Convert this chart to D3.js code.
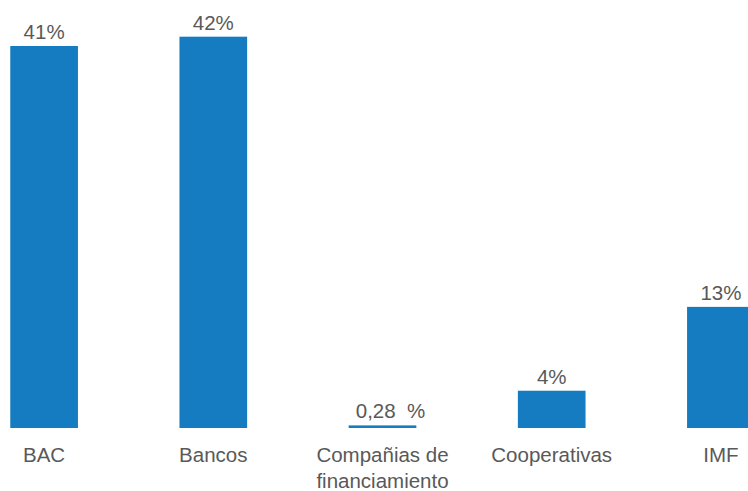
<!DOCTYPE html>
<html>
<head>
<meta charset="utf-8">
<script src="https://cdn.jsdelivr.net/npm/d3@7"></script>
<style>
  body { margin: 0; background: #fff; }
  text { font-family: "Liberation Sans", Arial, sans-serif; fill: #595959; }
</style>
</head>
<body>
<div id="chart"></div>
<script>
var categorias = ["BAC", "Bancos", "Compañias de financiamiento", "Cooperativas", "IMF"];
var valores = [41, 42, 0.28, 4, 13];
var etiquetas = ["41%", "42%", "0,28  %", "4%", "13%"];
var lineas = [["BAC"], ["Bancos"], ["Compañias de", "financiamiento"], ["Cooperativas"], ["IMF"]];

var w = 748, h = 491;
var margin = ({top: 20, bottom: 63});

var svg = d3.select("#chart")
  .append("svg")
    .attr("width", w)
    .attr("height", h);

var x = d3.scaleBand()
  .domain(categorias)
  .range([-40.5, 805.5])
  .paddingInner(0.6)
  .paddingOuter(0.3);

var y = d3.scaleLinear()
  .domain([0, 41])
  .range([h - margin.bottom, 46]);

svg.selectAll("rect.bar")
  .data(valores)
  .enter()
  .append("rect")
    .attr("class", "bar")
    .attr("x", (d, i) => x(categorias[i]))
    .attr("width", x.bandwidth())
    .attr("y", d => y(d))
    .attr("height", d => y(0) - y(d))
    .attr("fill", "#157cc1");

svg.selectAll("text.valor")
  .data(valores)
  .enter()
  .append("text")
    .attr("class", "valor")
    .attr("x", (d, i) => x(categorias[i]) + x.bandwidth() / 2)
    .attr("dx", d => d < 1 ? 8 : 0) // la etiqueta chica va corrida a la derecha
    .attr("y", d => y(d) - 7)
    .attr("text-anchor", "middle")
    .attr("font-size", "20.5px")
    .style("white-space", "pre")
    .text((d, i) => etiquetas[i]);

var g = svg.selectAll("text.cat")
  .data(lineas)
  .enter()
  .append("text")
    .attr("class", "cat")
    .attr("x", (d, i) => x(categorias[i]) + x.bandwidth() / 2)
    .attr("y", y(0) + 34)
    .attr("text-anchor", "middle")
    .attr("font-size", "20.5px");

g.selectAll("tspan")
  .data(d => d)
  .enter()
  .append("tspan")
    .attr("x", function(){ return d3.select(this.parentNode).attr("x"); })
    .attr("dy", (d, i) => i ? 26 : 0)
    .text(d => d);
</script>
</body>
</html>
